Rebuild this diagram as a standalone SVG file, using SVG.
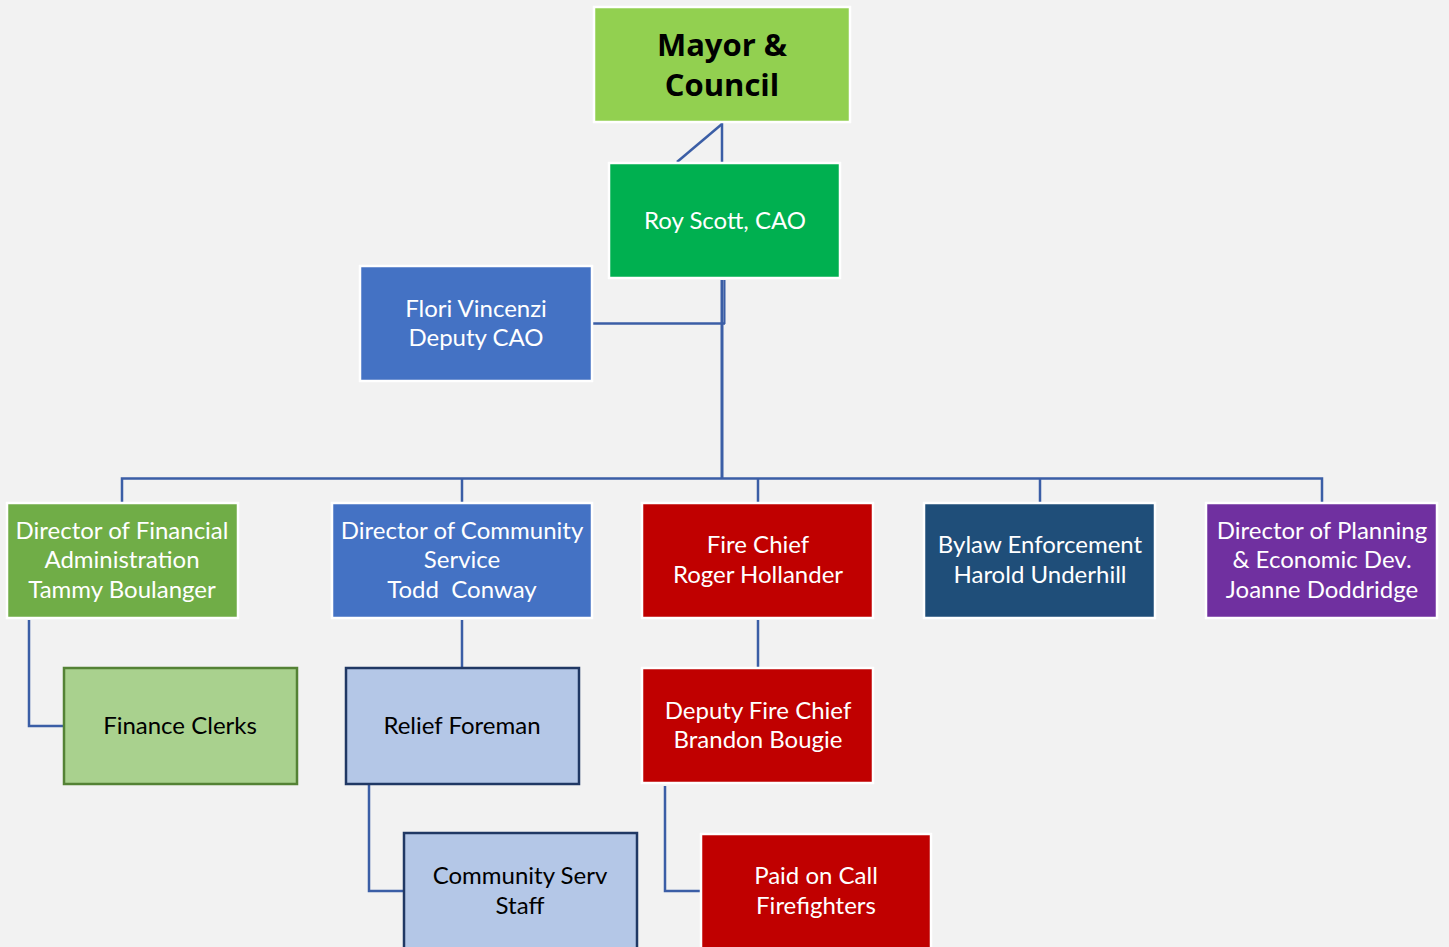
<svg xmlns="http://www.w3.org/2000/svg" width="1449" height="947" viewBox="0 0 1449 947">
<style>
.box{stroke:#FFFFFF;stroke-width:2.5}
.sub{stroke-width:2.5}
.t{font-family:Lato,"Open Sans","Liberation Sans",sans-serif;font-size:24px;fill:#FFFFFF;text-anchor:middle}
.d{fill:#000000}
.big{font-family:"Open Sans","Liberation Sans",sans-serif;font-size:31px;font-weight:bold;fill:#000000;text-anchor:middle}
.c{fill:none;stroke:#3B5EA6;stroke-width:2.5}
</style>
<rect width="1449" height="947" fill="#F2F2F2"/>
<g id="connectors">
<line class="c" x1="722" y1="123" x2="722" y2="163"/>
<line class="c" x1="722" y1="124" x2="677" y2="162"/>
<line class="c" x1="722" y1="280" x2="722" y2="479" style="stroke-width:3"/>
<line class="c" x1="724.5" y1="280" x2="724.5" y2="324" style="stroke-width:2"/>
<line class="c" x1="593" y1="323.5" x2="725" y2="323.5"/>
<polyline class="c" points="122,503 122,478.5 1322,478.5 1322,503"/>
<line class="c" x1="462" y1="478" x2="462" y2="503"/>
<line class="c" x1="758" y1="478" x2="758" y2="503"/>
<line class="c" x1="1040" y1="478" x2="1040" y2="503"/>
<polyline class="c" points="29,620 29,726 64,726"/>
<line class="c" x1="462" y1="620" x2="462" y2="668"/>
<polyline class="c" points="369,785 369,891 404,891"/>
<line class="c" x1="758" y1="620" x2="758" y2="667"/>
<polyline class="c" points="665,786 665,891 701,891"/>
</g>
<g id="mayor">
<rect class="box" x="594" y="7" width="256" height="115" fill="#92D050"/>
<text class="big" x="722" y="56">Mayor &amp;</text>
<text class="big" x="722" y="96">Council</text>
</g>
<g id="cao">
<rect class="box" x="609" y="163" width="231" height="115" fill="#00B050"/>
<text class="t" x="725" y="229">Roy Scott, CAO</text>
</g>
<g id="deputy-cao">
<rect class="box" x="360" y="266" width="232" height="115" fill="#4472C4"/>
<text class="t" x="476" y="317">Flori Vincenzi</text>
<text class="t" x="476" y="346">Deputy CAO</text>
</g>
<g id="financial">
<rect class="box" x="7" y="503" width="231" height="115" fill="#70AD47"/>
<text class="t" x="122" y="539">Director of Financial</text>
<text class="t" x="122" y="568">Administration</text>
<text class="t" x="122" y="598">Tammy Boulanger</text>
</g>
<g id="community">
<rect class="box" x="332" y="503" width="260" height="115" fill="#4472C4"/>
<text class="t" x="462" y="539">Director of Community</text>
<text class="t" x="462" y="568">Service</text>
<text class="t" x="462" y="598" xml:space="preserve">Todd  Conway</text>
</g>
<g id="fire-chief">
<rect class="box" x="642" y="503" width="231" height="115" fill="#C00000"/>
<text class="t" x="758" y="553">Fire Chief</text>
<text class="t" x="758" y="583">Roger Hollander</text>
</g>
<g id="bylaw">
<rect class="box" x="924" y="503" width="231" height="115" fill="#1F4E79"/>
<text class="t" x="1040" y="553">Bylaw Enforcement</text>
<text class="t" x="1040" y="583">Harold Underhill</text>
</g>
<g id="planning">
<rect class="box" x="1206" y="503" width="231" height="115" fill="#7030A0"/>
<text class="t" x="1322" y="539">Director of Planning</text>
<text class="t" x="1322" y="568">&amp; Economic Dev.</text>
<text class="t" x="1322" y="598">Joanne Doddridge</text>
</g>
<g id="finance-clerks">
<rect class="sub" x="64" y="668" width="233" height="116" fill="#A9D18E" stroke="#548235"/>
<text class="t d" x="180" y="734">Finance Clerks</text>
</g>
<g id="relief-foreman">
<rect class="sub" x="346" y="668" width="233" height="116" fill="#B4C7E7" stroke="#203864"/>
<text class="t d" x="462" y="734">Relief Foreman</text>
</g>
<g id="community-staff">
<rect class="sub" x="404" y="833" width="233" height="130" fill="#B4C7E7" stroke="#203864"/>
<text class="t d" x="520" y="884">Community Serv</text>
<text class="t d" x="520" y="914">Staff</text>
</g>
<g id="deputy-fire">
<rect class="box" x="642" y="668" width="231" height="115" fill="#C00000"/>
<text class="t" x="758" y="719">Deputy Fire Chief</text>
<text class="t" x="758" y="748">Brandon Bougie</text>
</g>
<g id="paid-on-call">
<rect class="box" x="701" y="834" width="230" height="130" fill="#C00000"/>
<text class="t" x="816" y="884">Paid on Call</text>
<text class="t" x="816" y="914">Firefighters</text>
</g>
</svg>
